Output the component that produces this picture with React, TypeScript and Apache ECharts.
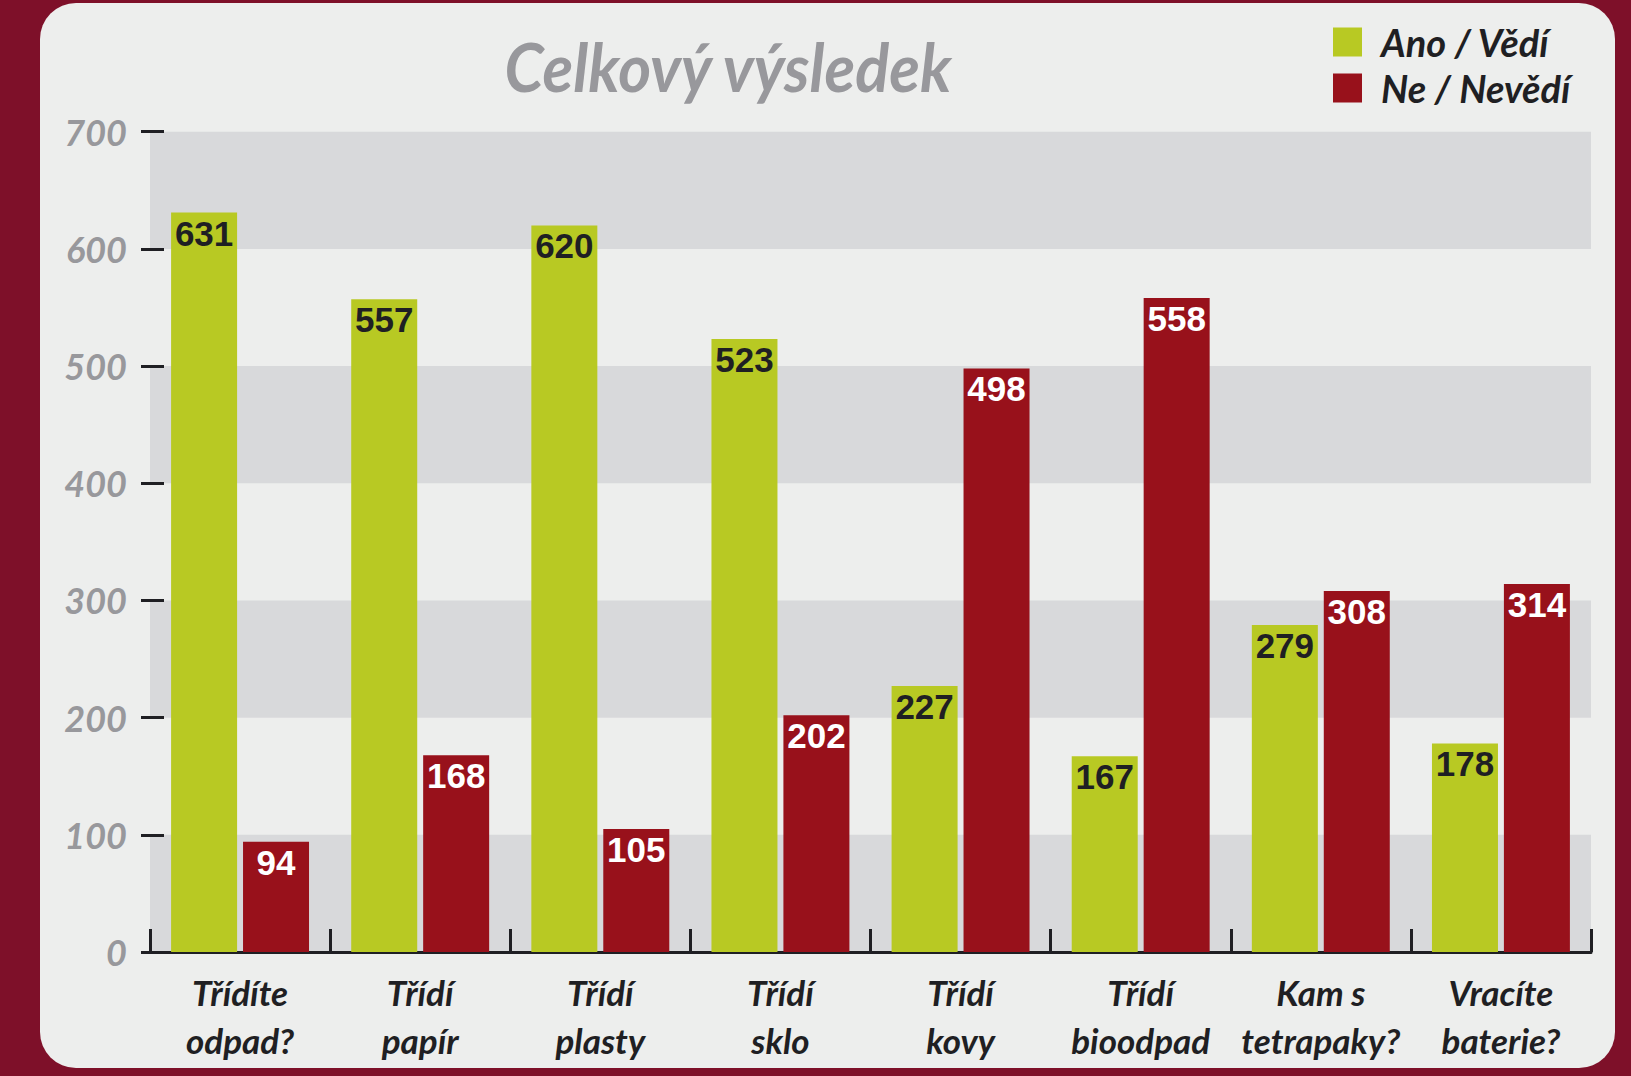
import React, { useEffect, useRef } from "react";
import * as echarts from "echarts";

const categories = [
  "Třídíte\nodpad?",
  "Třídí\npapír",
  "Třídí\nplasty",
  "Třídí\nsklo",
  "Třídí\nkovy",
  "Třídí\nbioodpad",
  "Kam s\ntetrapaky?",
  "Vracíte\nbaterie?",
];
const seriesNames = ["Ano / Vědí", "Ne / Nevědí"];
const anoValues = [631, 557, 620, 523, 227, 167, 279, 178];
const neValues = [94, 168, 105, 202, 498, 558, 308, 314];
const titleText = "Celkový výsledek";

const GREEN = "#b8c923";
const RED = "#98111b";
const CARD = "#edeeed";
const BAND = "#d8d9db";
const BG = "#7e1029";
const DARK = "#1f1f23";
const GREY = "#98989c";

export default function App() {
  const ref = useRef<HTMLDivElement>(null);
  useEffect(() => {
    document.body.style.margin = "0";
    const chart = echarts.init(ref.current!, null, { renderer: "svg" });
    chart.setOption({
      animation: false,
      backgroundColor: BG,
      graphic: [
        {
          type: "rect",
          z: -10,
          silent: true,
          shape: { x: 40, y: 3, width: 1575, height: 1065, r: 36 },
          style: { fill: CARD },
        },
        {
          type: "text",
          x: 728,
          y: 66,
          scaleX: 0.94,
          silent: true,
          style: {
            text: titleText,
            fontFamily: "Lato, 'Open Sans', sans-serif",
            fontStyle: "italic",
            fontWeight: "bold",
            fontSize: 67,
            fill: GREY,
            textAlign: "center",
            textVerticalAlign: "middle",
          },
        },
      ],
      legend: {
        orient: "vertical",
        left: 1333,
        top: 23,
        padding: 0,
        itemWidth: 29,
        itemHeight: 29,
        itemGap: 8,
        icon: "rect",
        textStyle: {
          fontFamily: "Lato, 'Open Sans', sans-serif",
          fontStyle: "italic",
          fontWeight: "bold",
          fontSize: 38,
          lineHeight: 29,
          color: DARK,
          padding: [0, 0, 0, 14],
        },
        data: seriesNames,
      },
      grid: { left: 150, right: 40, top: 131.7, bottom: 124, containLabel: false },
      xAxis: {
        type: "category",
        data: categories,
        axisLine: { show: true, lineStyle: { color: DARK, width: 3 } },
        axisTick: { show: true, inside: true, length: 23, lineStyle: { color: DARK, width: 3 } },
        axisLabel: {
          margin: 16,
          interval: 0,
          fontFamily: "Lato, 'Open Sans', sans-serif",
          fontStyle: "italic",
          fontWeight: "bold",
          fontSize: 35,
          lineHeight: 48,
          color: DARK,
        },
        splitLine: { show: false },
      },
      yAxis: {
        type: "value",
        min: 0,
        max: 700,
        interval: 100,
        offset: -14,
        axisLine: { show: false },
        axisTick: { show: true, length: 23, lineStyle: { color: DARK, width: 3 } },
        axisLabel: {
          margin: 37,
          fontFamily: "Lato, 'Open Sans', sans-serif",
          fontStyle: "italic",
          fontWeight: "bold",
          fontSize: 36,
          color: GREY,
        },
        splitLine: { show: false },
        splitArea: { show: true, areaStyle: { color: [BAND, "rgba(0,0,0,0)"] } },
      },
      series: [
        {
          name: seriesNames[0],
          type: "bar",
          data: anoValues,
          barWidth: 66,
          barGap: "9%",
          itemStyle: { color: GREEN },
          label: {
            show: true,
            position: "insideTop",
            distance: 3,
            fontFamily: "'Liberation Sans', Arial, sans-serif",
            fontWeight: "bold",
            fontSize: 35,
            color: DARK,
          },
        },
        {
          name: seriesNames[1],
          type: "bar",
          data: neValues,
          barWidth: 66,
          barGap: "9%",
          itemStyle: { color: RED },
          label: {
            show: true,
            position: "insideTop",
            distance: 3,
            fontFamily: "'Liberation Sans', Arial, sans-serif",
            fontWeight: "bold",
            fontSize: 35,
            color: "#ffffff",
          },
        },
      ],
    });
    return () => chart.dispose();
  }, []);
  return (
    <div
      ref={ref}
      style={{ position: "absolute", left: 0, top: 0, width: 1631, height: 1076 }}
    />
  );
}
